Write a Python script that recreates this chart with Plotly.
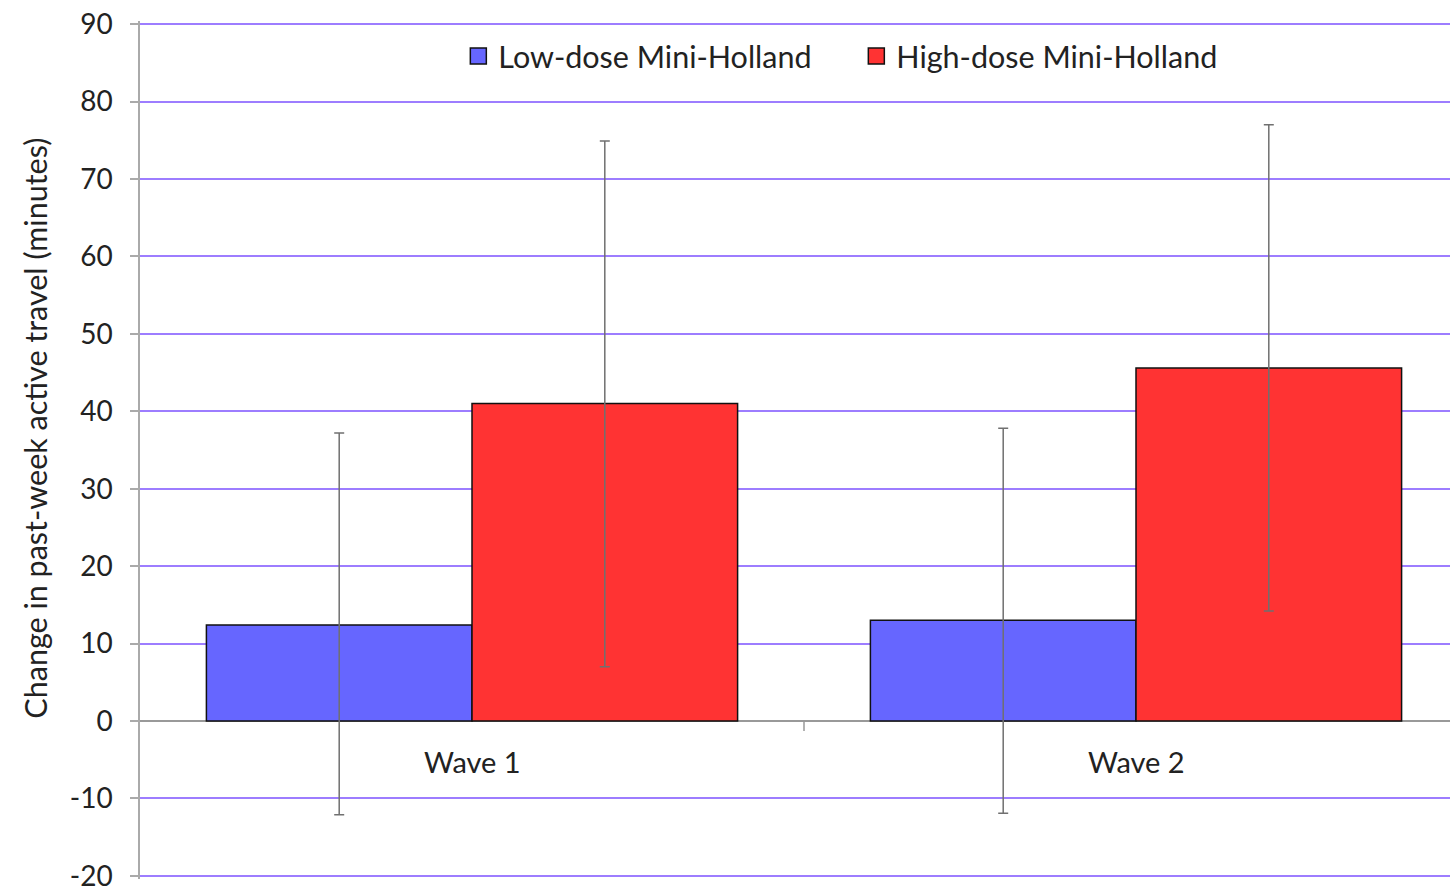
import plotly.graph_objects as go

categories = ["Wave 1", "Wave 2"]
series_names = ["Low-dose Mini-Holland", "High-dose Mini-Holland"]
low_values = [12.4, 13.0]
low_lower = [-12.1, -11.9]
low_upper = [37.2, 37.8]
high_values = [41.0, 45.6]
high_lower = [7.0, 14.2]
high_upper = [74.9, 77.0]
y_ticks = list(range(-20, 91, 10))
y_ticktext = [str(v) for v in y_ticks]
y_title = "Change in past-week active travel (minutes)"

FONT = "Lato"
colors = ["#6666ff", "#ff3333"]

fig = go.Figure()
for name, vals, lo, hi, col in [
    (series_names[0], low_values, low_lower, low_upper, colors[0]),
    (series_names[1], high_values, high_lower, high_upper, colors[1]),
]:
    fig.add_trace(go.Bar(
        x=categories, y=vals, name=name, showlegend=False,
        marker=dict(color=col, line=dict(color="#111111", width=1.5)),
        error_y=dict(type="data", symmetric=False,
                     array=[h - v for h, v in zip(hi, vals)],
                     arrayminus=[v - l for v, l in zip(vals, lo)],
                     color="#707070", thickness=1.5, width=5),
    ))
    fig.add_trace(go.Scatter(
        x=[None], y=[None], mode="markers", name=name,
        marker=dict(symbol="square", size=17, color=col,
                    line=dict(color="#111111", width=1.5)),
    ))

for c in categories:
    fig.add_annotation(x=c, y=0, yref="y", yshift=-40, text=c, showarrow=False,
                       font=dict(family=FONT, size=29, color="#222222"))

fig.add_annotation(xref="paper", yref="paper", x=-0.0802, y=0.526,
                   xanchor="center", yanchor="middle", textangle=-90,
                   text=y_title, showarrow=False,
                   font=dict(family=FONT, size=30.5, color="#222222"))

fig.add_shape(type="line", xref="x", yref="y", x0=0.5, x1=0.5, y0=0, y1=-1.3,
              line=dict(color="#999999", width=1.5))

fig.update_layout(
    width=1450, height=891,
    margin=dict(l=140, r=0, t=21, b=12),
    paper_bgcolor="white", plot_bgcolor="white",
    barmode="group", bargap=0.2, bargroupgap=0,
    font=dict(family=FONT, size=26, color="#222222"),
    legend=dict(orientation="h", x=0.243, xanchor="left", y=0.99, yanchor="top",
                font=dict(family=FONT, size=30.5, color="#222222"),
                bgcolor="rgba(0,0,0,0)", itemwidth=30, tracegroupgap=0,
                entrywidth=353),
    xaxis=dict(range=[-0.5, 1.4729], showticklabels=False, showgrid=False,
               zeroline=False, showline=False, ticks=""),
    yaxis=dict(range=[-20.4, 90.4], tickvals=y_ticks, ticktext=y_ticktext,
               showgrid=True, gridcolor="#9d7dff", gridwidth=1.5,
               zeroline=True, zerolinecolor="#999999", zerolinewidth=1.5,
               showline=True, linecolor="#aaaaaa", linewidth=1.5,
               ticks="outside", ticklen=8, tickcolor="#aaaaaa", tickwidth=1.5,
               ticklabelstandoff=12, ticklabeloverflow="allow",
               tickfont=dict(family=FONT, size=28, color="#222222")),
)

fig.write_html("out.html")
